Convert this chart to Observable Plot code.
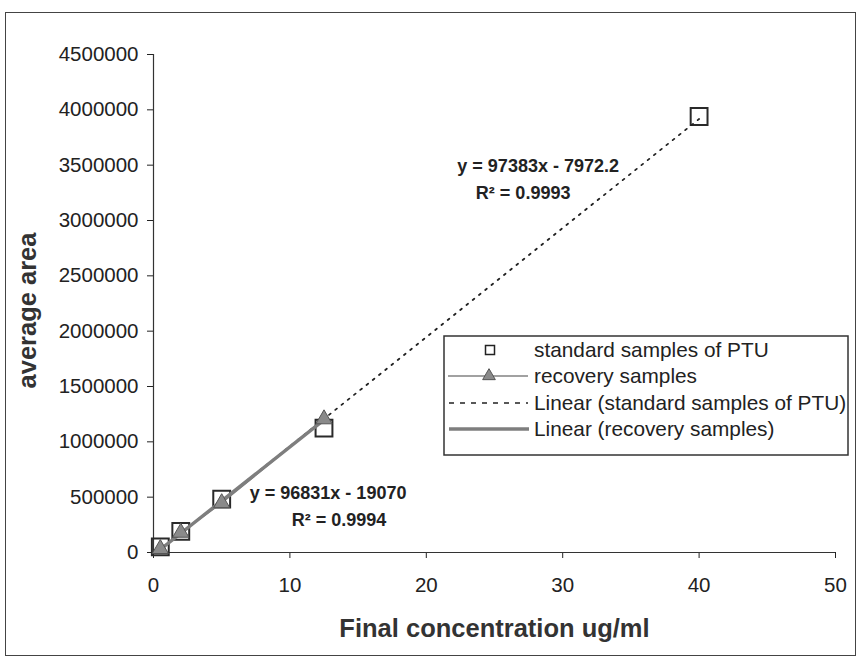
<!DOCTYPE html>
<html>
<head>
<meta charset="utf-8">
<script src="https://cdn.jsdelivr.net/npm/d3@7"></script>
<script src="https://cdn.jsdelivr.net/npm/@observablehq/plot@0.6"></script>
<style>
  html, body { margin: 0; padding: 0; background: #fff; }
  #wrap { position: relative; width: 860px; height: 672px; overflow: hidden; font-family: "Liberation Sans", Arial, sans-serif; }
  #frame { position: absolute; left: 5px; top: 12px; width: 849px; height: 642px; border: 1px solid #444; pointer-events: none; }
  #chart { position: absolute; left: 0; top: 0; }
  #legend { position: absolute; left: 443px; top: 335px; }
</style>
</head>
<body>
<div id="wrap">
  <div id="chart"></div>
  <div id="legend"></div>
  <div id="frame"></div>
</div>
<script>
// ---- data ----
const seriesNames = ["standard samples of PTU", "recovery samples"];
const legendLabels = [
  "standard samples of PTU",
  "recovery samples",
  "Linear (standard samples of PTU)",
  "Linear (recovery samples)"
];
const stdConc = [0.5, 2, 5, 12.5, 40];
const stdArea = [51000, 191000, 483000, 1124000, 3940000];
const recConc = [0.5, 2, 5, 12.5];
const recArea = [33000, 180000, 447000, 1205000];
const xTicks = [0, 10, 20, 30, 40, 50];
const yTicks = [0, 500000, 1000000, 1500000, 2000000, 2500000, 3000000, 3500000, 4000000, 4500000];
const eqStd = ["y = 97383x - 7972.2", "R² = 0.9993"];
const eqRec = ["y = 96831x - 19070", "R² = 0.9994"];
const xTitle = "Final concentration ug/ml";
const yTitle = "average area";

const stdData = stdConc.map((x, i) => ({x, y: stdArea[i], series: seriesNames[0]}));
const recData = recConc.map((x, i) => ({x, y: recArea[i], series: seriesNames[1]}));

const ink = "#222";
const gray = "#7e7e7e";

const plot = Plot.plot({
  width: 860,
  height: 672,
  marginLeft: 153,
  marginRight: 25,
  marginTop: 54,
  marginBottom: 120,
  style: {fontFamily: "'Liberation Sans', Arial, sans-serif", fontSize: "20.5px", color: ink, background: "transparent"},
  x: {domain: [0, 50], ticks: xTicks, tickSize: 6, tickPadding: 19, label: null},
  y: {domain: [0, 4500000], ticks: yTicks, tickFormat: d => String(d), tickSize: 6, tickPadding: 9, label: null},
  marks: [
    Plot.ruleX([0], {stroke: "#333", strokeWidth: 1.2}),
    Plot.ruleY([0], {stroke: "#333", strokeWidth: 1.2}),
    // standard samples: hollow squares
    Plot.dot(stdData, {x: "x", y: "y", symbol: "square", r: 9.5, fill: "none", stroke: "#2a2a2a", strokeWidth: 2}),
    // linear trend of standard samples (dotted)
    Plot.linearRegressionY(stdData, {x: "x", y: "y", ci: 0, stroke: "#222", strokeWidth: 1.8, strokeDasharray: "2,6"}),
    // recovery samples connecting line
    Plot.line(recData, {x: "x", y: "y", stroke: gray, strokeWidth: 1.5}),
    // linear trend of recovery samples (thick gray)
    Plot.linearRegressionY(recData, {x: "x", y: "y", ci: 0, stroke: gray, strokeWidth: 3.4}),
    // recovery triangles
    Plot.dot(recData, {x: "x", y: "y", symbol: "triangle", r: 6, fill: "#8a8a8a", stroke: "#555", strokeWidth: 1}),
    // trendline equations
    Plot.text([eqStd[0]], {x: 28.2, y: 3488000, text: d => d, fontSize: 18, fontWeight: "bold", fill: ink}),
    Plot.text([eqStd[1]], {x: 27.1, y: 3244000, text: d => d, fontSize: 18, fontWeight: "bold", fill: ink}),
    Plot.text([eqRec[0]], {x: 12.8, y: 533000, text: d => d, fontSize: 18, fontWeight: "bold", fill: ink}),
    Plot.text([eqRec[1]], {x: 13.6, y: 289000, text: d => d, fontSize: 18, fontWeight: "bold", fill: ink}),
    // axis titles
    Plot.text([xTitle], {frameAnchor: "bottom", dy: 76, text: d => d, textAnchor: "middle", lineAnchor: "middle", fontSize: 25.5, fontWeight: "bold", fill: "#333"}),
    Plot.text([yTitle], {frameAnchor: "left", dx: -126, dy: 7, rotate: -90, text: d => d, textAnchor: "middle", lineAnchor: "middle", fontSize: 25.5, fontWeight: "bold", fill: "#333"})
  ]
});
document.getElementById("chart").appendChild(plot);

// ---- legend ----
const W = 406, H = 121;
const leg = d3.select("#legend").append("svg")
  .attr("width", W).attr("height", H)
  .style("font-family", "'Liberation Sans', Arial, sans-serif");
leg.append("rect").attr("x", 1).attr("y", 1).attr("width", W - 2).attr("height", H - 2)
  .attr("fill", "#fff").attr("stroke", "#333").attr("stroke-width", 1.5);
const rowY = [15, 41, 68, 94];
// row 1: square
leg.append("rect").attr("x", 42.5).attr("y", rowY[0] - 4.5).attr("width", 9).attr("height", 9)
  .attr("fill", "none").attr("stroke", "#222").attr("stroke-width", 1.5);
// row 2: line + triangle
leg.append("line").attr("x1", 5).attr("x2", 85).attr("y1", rowY[1]).attr("y2", rowY[1])
  .attr("stroke", "#444").attr("stroke-width", 1.2);
leg.append("path").attr("d", d3.symbol(d3.symbolTriangle, 70)())
  .attr("transform", `translate(46,${rowY[1]})`).attr("fill", "#8a8a8a").attr("stroke", "#555");
// row 3: dotted
leg.append("line").attr("x1", 6).attr("x2", 85).attr("y1", rowY[2]).attr("y2", rowY[2])
  .attr("stroke", "#222").attr("stroke-width", 1.6).attr("stroke-dasharray", "5,6");
// row 4: thick gray
leg.append("line").attr("x1", 6).attr("x2", 86).attr("y1", rowY[3]).attr("y2", rowY[3])
  .attr("stroke", gray).attr("stroke-width", 3.4);
leg.selectAll("text.lab").data(legendLabels).join("text")
  .attr("class", "lab")
  .attr("x", 91).attr("y", (d, i) => rowY[i]).attr("dy", "0.35em")
  .attr("font-size", 20.8).attr("fill", ink).text(d => d);
</script>
</body>
</html>
